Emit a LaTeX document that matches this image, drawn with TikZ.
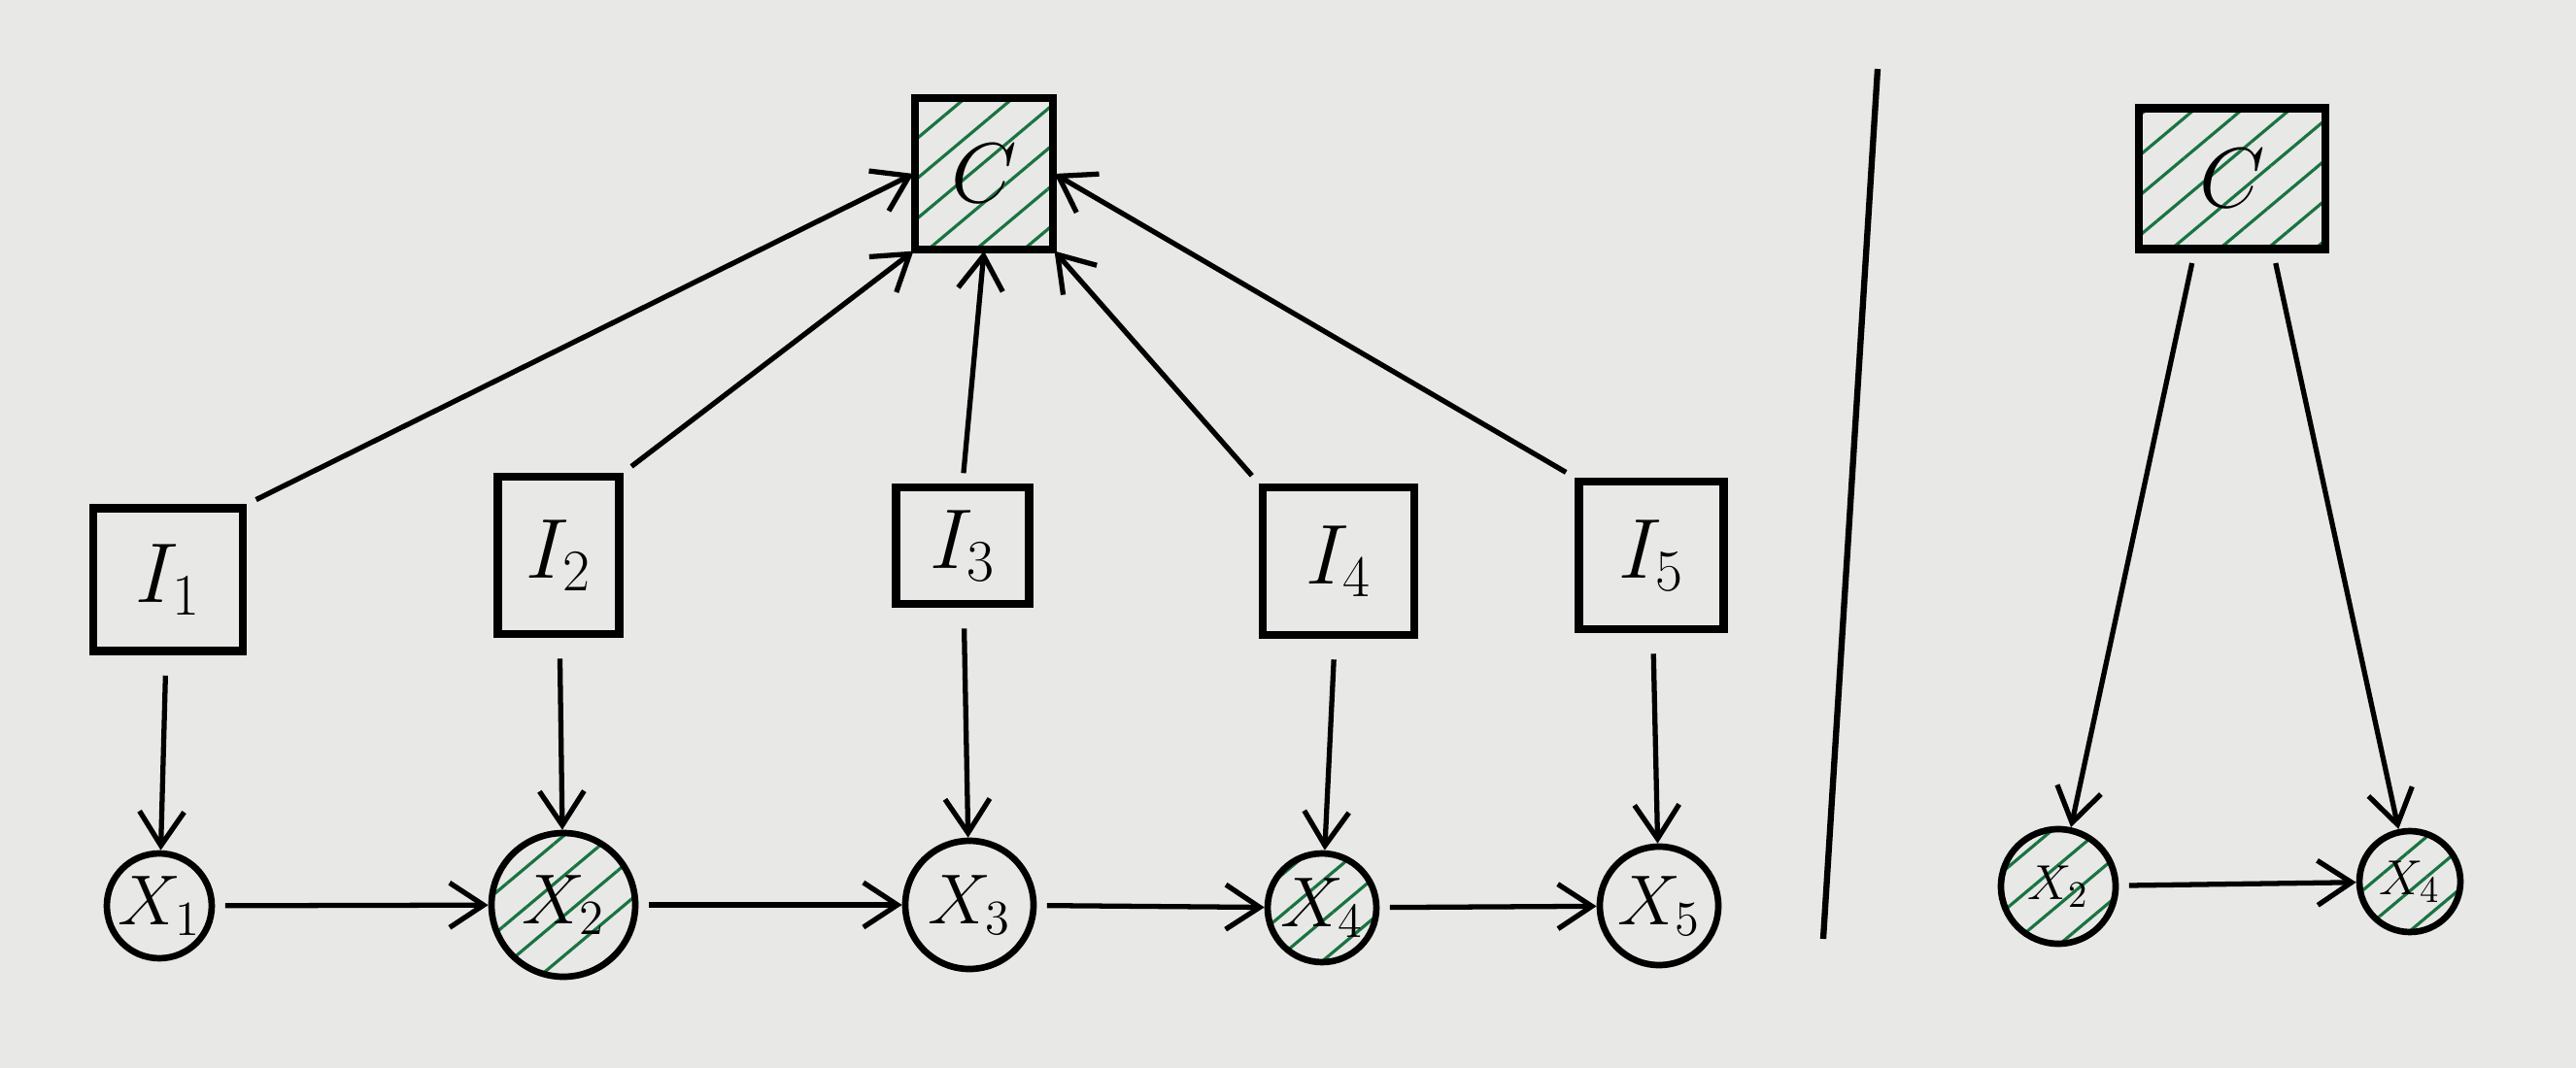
\documentclass[tikz,border=0pt]{standalone}
\usepackage{xcolor}
\definecolor{paperGray}{RGB}{232,232,230}
\definecolor{hatchGreen}{RGB}{25,115,65}
\usepackage{tikz}
\usetikzlibrary{arrows.meta,patterns.meta,positioning}
\tikzstyle{factor}=[rectangle, draw=black, line width=2.4pt, minimum width=1.45cm, minimum height=1.5cm, font=\fontsize{26}{30}\selectfont]
\tikzstyle{varnode}=[circle, draw=black, line width=1.9pt, inner sep=0pt, font=\fontsize{20}{24}\selectfont]
\tikzstyle{observed}=[pattern={Lines[angle=40,distance=9pt,line width=0.9pt]}, pattern color=hatchGreen]
\tikzstyle{edgearrow}=[-{Straight Barb[length=3.5mm,width=4.6mm,line width=1.5pt]}, line width=1.5pt, shorten <=3pt]

\begin{document}
\begin{tikzpicture}
    \fill[paperGray] (0,0) rectangle (26.52,-11);
    \useasboundingbox (0,0) rectangle (26.52,-11);

    % Fator central
    \node[factor, observed, minimum width=1.42cm, minimum height=1.56cm, font=\fontsize{28}{32}\selectfont] (C) at (10.13,-1.79) {$C$};

    % Nós de intervenção
    \node[factor, minimum width=1.54cm, minimum height=1.47cm] (I1) at (1.73,-5.97) {$I_1$};
    \node[factor, minimum width=1.25cm, minimum height=1.62cm] (I2) at (5.75,-5.72) {$I_2$};
    \node[factor, minimum width=1.37cm, minimum height=1.20cm] (I3) at (9.91,-5.62) {$I_3$};
    \node[factor, minimum width=1.56cm, minimum height=1.52cm] (I4) at (13.78,-5.78) {$I_4$};
    \node[factor, minimum width=1.49cm, minimum height=1.52cm] (I5) at (17.00,-5.72) {$I_5$};

    % Variáveis
    \node[varnode, minimum size=1.08cm] (X1) at (1.64,-9.33) {$X_1$};
    \node[varnode, observed, minimum size=1.48cm] (X2) at (5.80,-9.32) {$X_2$};
    \node[varnode, minimum size=1.32cm] (X3) at (9.98,-9.32) {$X_3$};
    \node[varnode, observed, minimum size=1.12cm] (X4) at (13.61,-9.35) {$X_4$};
    \node[varnode, minimum size=1.22cm] (X5) at (17.08,-9.33) {$X_5$};

    % Setas para C
    \draw[edgearrow] (I1.north east) -- (C.west);
    \draw[edgearrow] (I2.north east) -- (C.south west);
    \draw[edgearrow] (I3.north) -- (C.south);
    \draw[edgearrow] (I4.north west) -- (C.south east);
    \draw[edgearrow] (I5.north west) -- (C.east);

    % Setas I -> X
    \foreach \i in {1,...,5} {
      \draw[edgearrow, shorten <=6pt] (I\i) -- (X\i);
    }

    % Cadeia
    \foreach \a/\b in {1/2, 2/3, 3/4, 4/5} {
      \draw[edgearrow] (X\a) -- (X\b);
    }

    % Separador
    \coordinate (sepTop) at (19.33,-0.71);
    \coordinate (sepBot) at (18.77,-9.67);
    \draw[line width=1.8pt] (sepTop) -- (sepBot);

    % Grafo reduzido
    \node[factor, observed, minimum width=1.92cm, minimum height=1.45cm, font=\fontsize{24}{28}\selectfont] (Cr) at (22.98,-1.84) {$C$};
    \node[varnode, observed, minimum size=1.18cm, font=\fontsize{15}{18}\selectfont] (Xr2) at (21.19,-9.13) {$X_2$};
    \node[varnode, observed, minimum size=1.04cm, font=\fontsize{15}{18}\selectfont] (Xr4) at (24.81,-9.08) {$X_4$};

    \draw[edgearrow] (Cr.243) -- (Xr2);
    \draw[edgearrow] (Cr.299) -- (Xr4);
    \draw[edgearrow] (Xr2) -- (Xr4);
  \end{tikzpicture}
\end{document}
